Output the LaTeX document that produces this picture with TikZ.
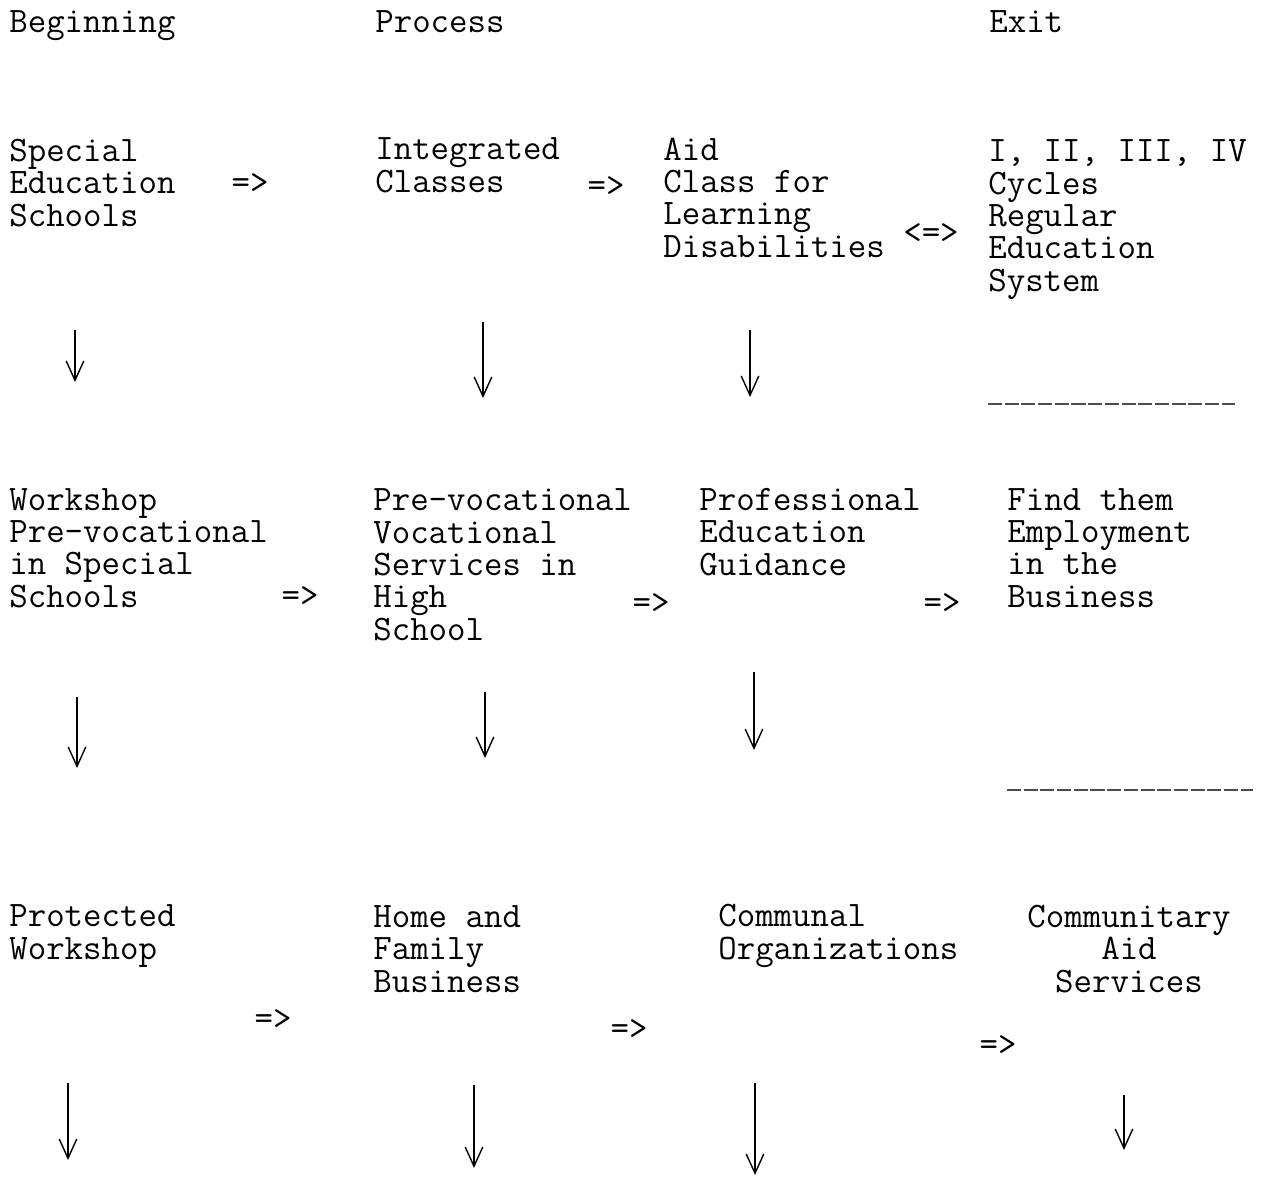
\documentclass[tikz,border=0pt]{standalone}
\usepackage{fontspec}
\usetikzlibrary{arrows.meta}
\newcommand{\typesize}{\ttfamily\fontsize{20.4}{18.4}\selectfont}

\begin{document}
\begin{tikzpicture}[x=0.02cm,y=-0.02cm,
    block/.style={anchor=base west, inner sep=0pt, align=left, font=\typesize},
    eqarr/.style={inner sep=0pt, font=\typesize},
    darr/.style={-{Straight Barb[length=11pt,width=10pt]}, line width=0.8pt},
    typedline/.style={line width=1pt, black!70, dash pattern=on 8pt off 1.5pt}]
\useasboundingbox (0,0) rectangle (1272,1178);

% column heads
\node[block] (beg) at (9,32) {Beginning};
\node[block] (proc) at (375,32) {Process};
\node[block] (exit) at (989,32) {Exit};

% first row (placed at the baseline of the last line)
\node[block] (spec) at (9,226) {Special\\Education\\Schools};
\node[block] (integ) at (375,192) {Integrated\\Classes};
\node[block] (aid) at (663,257) {Aid\\Class for\\Learning\\Disabilities};
\node[block] (cyc) at (988,291) {I, II, III, IV\\Cycles\\Regular\\Education\\System};
\node[eqarr] (e1) at (250,184) {=>};
\node[eqarr] (e2) at (606,187) {=>};
\node[eqarr] (e3) at (931,234) {<=>};

% second row
\node[block] (work) at (9,607) {Workshop\\Pre-vocational\\in Special\\Schools};
\node[block] (voc) at (373,640) {Pre-vocational\\Vocational\\Services in\\High\\School};
\node[block] (prof) at (699,575) {Professional\\Education\\Guidance};
\node[block] (find) at (1007,607) {Find them\\Employment\\in the\\Business};
\node[eqarr] (e4) at (300,597) {=>};
\node[eqarr] (e5) at (651,604) {=>};
\node[eqarr] (e6) at (942,604) {=>};

% third row
\node[block] (prot) at (9,959) {Protected\\Workshop};
\node[block] (home) at (373,992) {Home and\\Family\\Business};
\node[block] (comm) at (718,959) {Communal\\Organizations};
\node[block, anchor=base, align=center] (serv) at (1129,992) {Communitary\\Aid\\Services};
\node[eqarr] (e7) at (273,1020) {=>};
\node[eqarr] (e8) at (629,1030) {=>};
\node[eqarr] (e9) at (998,1046) {=>};

% typed rules under the exit column
\coordinate (ruleA) at (988,404);
\coordinate (ruleB) at (1235,404);
\coordinate (ruleC) at (1007,790);
\coordinate (ruleD) at (1253,790);
\draw[typedline] (ruleA) -- (ruleB);
\draw[typedline] (ruleC) -- (ruleD);

% down arrows
\foreach \n/\x/\ya/\yb in {1/75/330/382, 2/483/322/398, 3/750/330/397,
    4/77/697/768, 5/485/692/758, 6/754/672/750,
    7/68/1083/1160, 8/474/1085/1168, 9/755/1083/1175, 10/1124/1095/1150}
{
    \coordinate (top\n) at (\x,\ya);
    \coordinate (bot\n) at (\x,\yb);
    \draw[darr] (top\n) -- (bot\n);
}
\end{tikzpicture}
\end{document}
